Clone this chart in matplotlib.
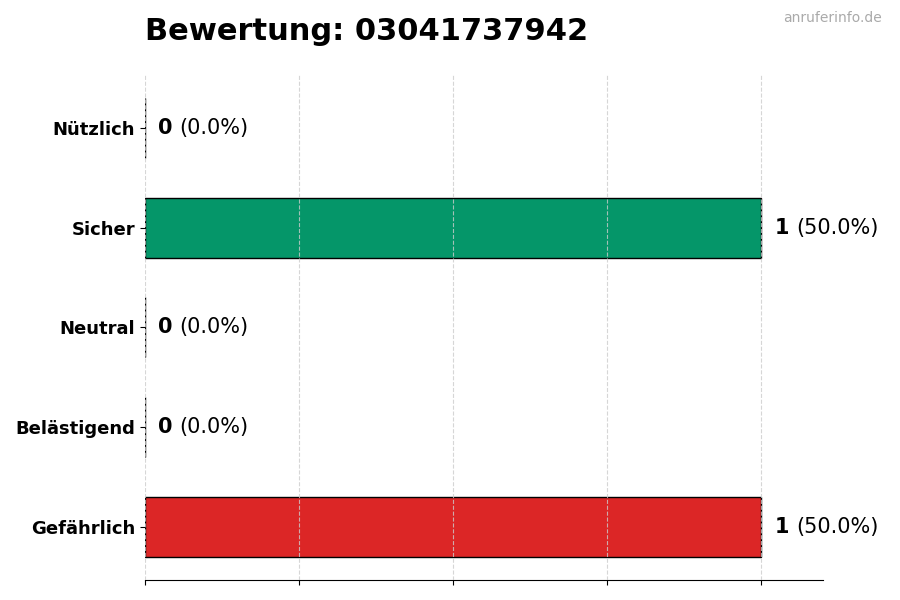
import matplotlib

matplotlib.use("Agg")
import matplotlib.pyplot as plt
from matplotlib.transforms import offset_copy

# data
categories = ["Nützlich", "Sicher", "Neutral", "Belästigend", "Gefährlich"]
counts = [0, 1, 0, 0, 1]
colors = ["#16a34a", "#059669", "#9ca3af", "#f59e0b", "#dc2626"]
title = "Bewertung: 03041737942"
watermark = "anruferinfo.de"

total = sum(counts)

fig = plt.figure(figsize=(9, 6), dpi=100)
ax = fig.add_axes([0.161, 0.0333, 0.7535, 0.842])

ypos = list(range(len(categories)))
ax.barh(ypos, counts, height=0.6, color=colors, edgecolor="black", linewidth=1.0)
ax.set_yticks(ypos)
ax.set_yticklabels(categories, fontsize=13, fontweight="bold")
ax.set_ylim(4.53, -0.53)
ax.set_xlim(0, 1.1)
ax.set_xticks([0, 0.25, 0.5, 0.75, 1.0])
ax.set_xticklabels([])
ax.grid(axis="x", linestyle="--", color="#cccccc", linewidth=0.8, alpha=0.8)
ax.set_axisbelow(False)
for side in ("top", "right", "left"):
    ax.spines[side].set_visible(False)

fig.canvas.draw()
renderer = fig.canvas.get_renderer()
for y, c in zip(ypos, counts):
    pct = 100.0 * c / total if total else 0.0
    t = ax.text(c, y, str(c), fontsize=15, fontweight="bold", va="center", ha="left",
                transform=offset_copy(ax.transData, fig=fig, x=13, y=0, units="dots"))
    w = t.get_window_extent(renderer=renderer).width
    ax.text(c, y, f"({pct:.1f}%)", fontsize=15, va="center", ha="left",
            transform=offset_copy(ax.transData, fig=fig, x=13 + w + 7, y=0, units="dots"))

fig.text(0.161, 0.947, title, fontsize=22, fontweight="bold", ha="left", va="center")
fig.text(0.98, 0.97, watermark, fontsize=10, color="#aaaaaa", ha="right", va="center")

fig.savefig("out.png", dpi=100)
plt.close(fig)
